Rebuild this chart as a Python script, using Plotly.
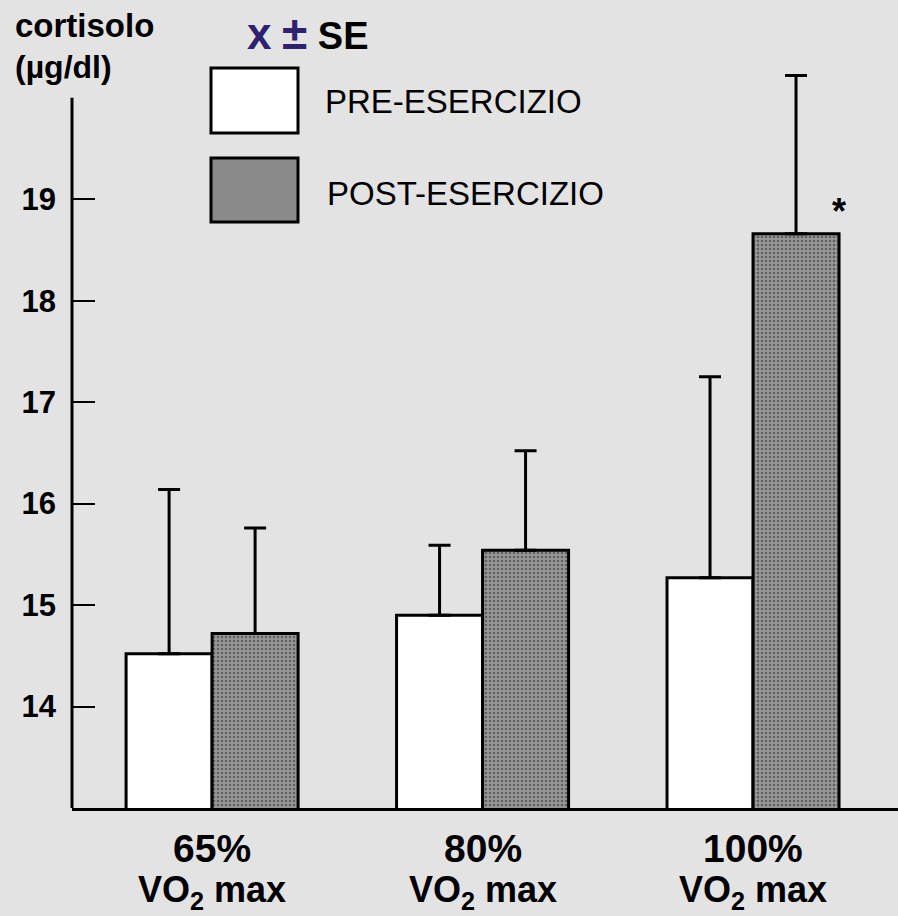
import plotly.graph_objects as go

# Cortisol (µg/dl) before and after exercise at three workloads, mean ± SE
categories = ["65%", "80%", "100%"]
pre_values = [14.52, 14.90, 15.27]
post_values = [14.72, 15.54, 18.66]
pre_se = [1.62, 0.69, 1.98]
post_se = [1.04, 0.98, 1.56]
y_ticks = [14, 15, 16, 17, 18, 19]
series_names = ["PRE-ESERCIZIO", "POST-ESERCIZIO"]
significant = [False, False, True]

W, H = 898, 916
M_L, M_R, M_T, M_B = 72, 0, 47, 108
PW, PH = W - M_L - M_R, H - M_T - M_B

BG = "#e3e3e3"
GRAY = "#8a8a8a"
FONT = "Liberation Sans, Arial, Helvetica, sans-serif"


def px(x):
    return (x - M_L) / PW


def py(y):
    return (H - M_B - y) / PH


fig = go.Figure()
fig.add_trace(go.Bar(
    name=series_names[0], x=list(range(len(categories))), y=pre_values,
    marker=dict(color="white", line=dict(color="black", width=3)),
    error_y=dict(type="data", symmetric=False, array=pre_se,
                 arrayminus=[0] * len(pre_se), color="black", thickness=3, width=11),
))
fig.add_trace(go.Bar(
    name=series_names[1], x=list(range(len(categories))), y=post_values,
    marker=dict(color=GRAY, line=dict(color="black", width=3),
                pattern=dict(shape=".", fgcolor="#2a2a2a", bgcolor="#979797",
                             size=4, solidity=0.35)),
    error_y=dict(type="data", symmetric=False, array=post_se,
                 arrayminus=[0] * len(post_se), color="black", thickness=3, width=11),
))

annotations = []
# significance marks
for i, flag in enumerate(significant):
    if flag:
        annotations.append(dict(x=i + 0.318, y=post_values[i], xref="x", yref="y",
                                text="<b>*</b>", showarrow=False, xanchor="center", yanchor="bottom",
                                font=dict(family=FONT, size=36, color="black")))
# two-line category labels below the axis
for i, c in enumerate(categories):
    annotations.append(dict(x=i, y=py(848), xref="x", yref="paper",
                            text=f"<b>{c}</b>", showarrow=False, borderpad=0,
                            xanchor="center", yanchor="middle",
                            font=dict(family=FONT, size=39, color="black")))
    annotations.append(dict(x=i, y=py(916), xref="x", yref="paper",
                            text="<b>VO<sub>2</sub> max</b>", showarrow=False, borderpad=0,
                            xanchor="center", yanchor="bottom",
                            font=dict(family=FONT, size=36, color="black")))

# axis title in the top-left corner
annotations.append(dict(x=px(13), y=py(25), xref="paper", yref="paper", text="<b>cortisolo</b>",
                        showarrow=False, xanchor="left", yanchor="middle",
                        font=dict(family=FONT, size=33, color="black")))
annotations.append(dict(x=px(13), y=py(67), xref="paper", yref="paper", text="<b>(µg/dl)</b>",
                        showarrow=False, xanchor="left", yanchor="middle",
                        font=dict(family=FONT, size=32, color="black")))

# key
annotations.append(dict(x=px(245), y=py(33), xref="paper", yref="paper",
                        text="<b><span style='color:#2e2170;font-size:44px'>x</span> "
                             "<span style='color:#2e2170;font-size:46px'>±</span> SE</b>",
                        showarrow=False, xanchor="left", yanchor="middle",
                        font=dict(family=FONT, size=38, color="black")))
annotations.append(dict(x=px(323), y=py(101), xref="paper", yref="paper", text=series_names[0],
                        showarrow=False, xanchor="left", yanchor="middle",
                        font=dict(family=FONT, size=33, color="black")))
annotations.append(dict(x=px(325), y=py(193), xref="paper", yref="paper", text=series_names[1],
                        showarrow=False, xanchor="left", yanchor="middle",
                        font=dict(family=FONT, size=33, color="black")))

shapes = [
    # vertical axis line, stopping at 20
    dict(type="line", xref="paper", yref="y", x0=0, x1=0, y0=13, y1=20,
         line=dict(color="black", width=3)),
    # key boxes
    dict(type="rect", xref="paper", yref="paper", x0=px(211), x1=px(298), y0=py(133), y1=py(68),
         fillcolor="white", line=dict(color="black", width=3)),
    dict(type="rect", xref="paper", yref="paper", x0=px(211), x1=px(298), y0=py(222), y1=py(158),
         fillcolor=GRAY, line=dict(color="black", width=3)),
]

fig.update_layout(
    width=W, height=H,
    margin=dict(l=M_L, r=M_R, t=M_T, b=M_B),
    paper_bgcolor=BG, plot_bgcolor=BG,
    barmode="group", bargap=0.364, bargroupgap=0,
    showlegend=False,
    annotations=annotations, shapes=shapes,
    font=dict(family=FONT, color="black"),
)
fig.update_xaxes(
    range=[-0.518, 2.536], tickmode="array", tickvals=list(range(len(categories))),
    showticklabels=False, ticks="", showgrid=False, zeroline=False,
    showline=True, linecolor="black", linewidth=3,
)
fig.update_yaxes(
    range=[13, 20.5], tickmode="array", tickvals=y_ticks,
    ticktext=[f"<b>{t}</b>" for t in y_ticks],
    ticks="inside", ticklen=23, tickwidth=2, tickcolor="black",
    showgrid=False, zeroline=False, showline=False, ticklabelstandoff=15,
    tickfont=dict(family=FONT, size=31, color="black"),
)

fig.write_html("out.html")
